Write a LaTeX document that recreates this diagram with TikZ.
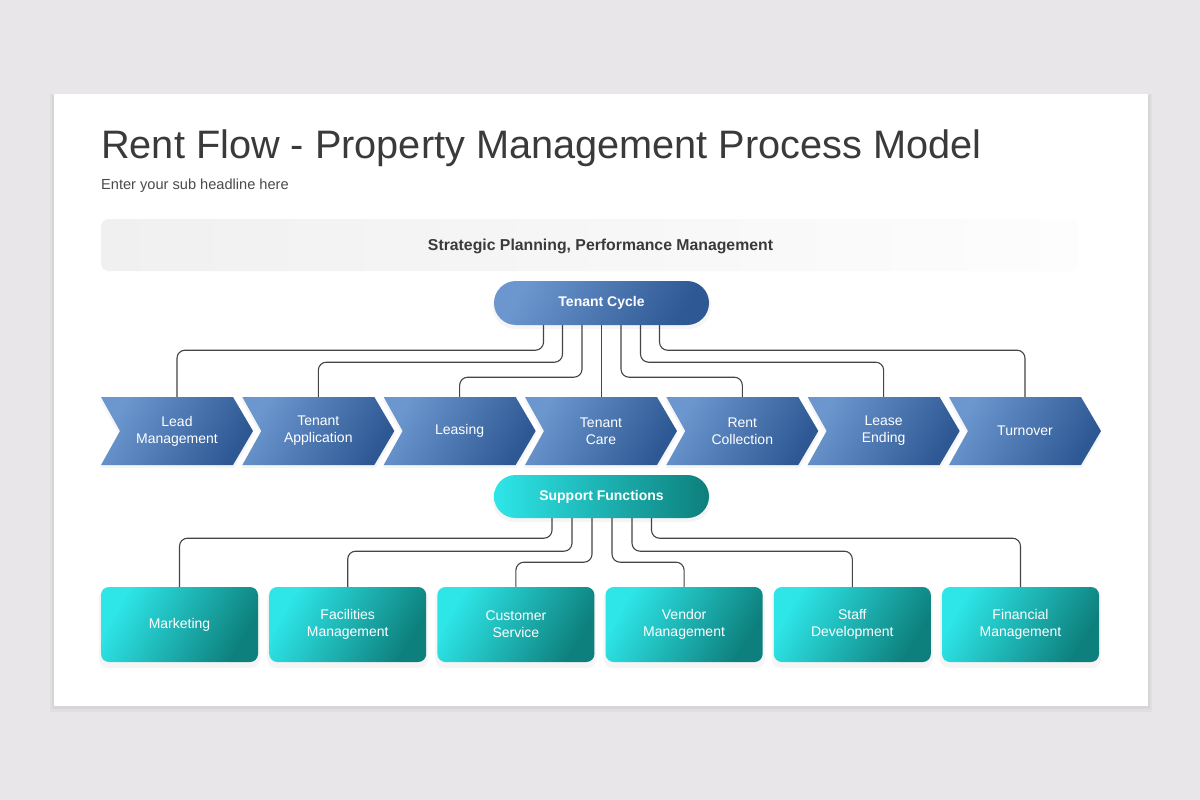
\documentclass[tikz,border=0pt]{standalone}
\usepackage{fontspec}
\setmainfont{Liberation Sans}
\usetikzlibrary{calc}
\definecolor{bgc}{HTML}{E8E6E8}
\definecolor{titlec}{HTML}{3A3A3A}
\definecolor{subc}{HTML}{4A4A4A}
\definecolor{blueL}{HTML}{6B96CE}
\definecolor{blueD}{HTML}{2D5893}
\definecolor{tealL}{HTML}{2EE6E8}
\definecolor{tealD}{HTML}{0D7F7C}
\definecolor{bandL}{HTML}{F0F0F0}
\definecolor{bandR}{HTML}{FDFDFD}
\definecolor{linec}{HTML}{454545}
\begin{document}
\begin{tikzpicture}[x=1pt,y=-1pt,
  bluegrad/.style={top color=blueL, bottom color=blueD, shading angle=60},
  tealgrad/.style={top color=tealL, bottom color=tealD, shading angle=60},
  pill/.style={minimum width=215pt, minimum height=44pt, rounded corners=22pt, inner sep=0pt,
    text=white, font=\fontsize{14}{17}\selectfont\bfseries},
  chevtext/.style={minimum width=120pt, minimum height=68pt, inner sep=0pt, align=center,
    text=white, font=\fontsize{14}{17}\selectfont},
  tealbox/.style={tealgrad, minimum width=157pt, minimum height=75pt, rounded corners=8pt,
    inner sep=0pt, align=center, text=white, font=\fontsize{14}{17}\selectfont},
  conn/.style={draw=linec, line width=1.1pt, rounded corners=8pt},
  shadowc/.style={fill=black, opacity=0.04}
]
\useasboundingbox (0,0) rectangle (1200,800);
\fill[bgc] (0,0) rectangle (1200,800);
% card
\fill[black,opacity=0.03] (50,94) rectangle (1152,712);
\fill[black,opacity=0.04] (52,95) rectangle (1150,709);
\fill[white] (54,94) rectangle (1148,706);
% title
\node[anchor=base west, inner sep=0pt, text=titlec, font=\fontsize{39.7}{44}\selectfont] (title) at (101,158) {Rent Flow - Property Management Process Model};
\node[anchor=base west, inner sep=0pt, text=subc, font=\fontsize{14.6}{17}\selectfont] (sub) at (101,189) {Enter your sub headline here};
% banner
\shade[left color=bandL, right color=bandR, rounded corners=8pt] (101,219) rectangle (1078,271);
\node[text=titlec, font=\fontsize{15.8}{18}\selectfont\bfseries] (banner) at (600.5,246) {Strategic Planning, Performance Management};
% tenant cycle pill
\fill[shadowc, rounded corners=22pt] (493,283) rectangle (711,329);
\node[pill, bluegrad] (tc) at (601.5,303) {\raisebox{-1pt}{Tenant Cycle}};
% chevrons
\foreach \i/\t in {0/{Lead\\Management},1/{Tenant\\Application},2/{Leasing},3/{Tenant\\Care},4/{Rent\\Collection},5/{Lease\\Ending},6/{Turnover}}{
  \pgfmathsetmacro{\xo}{101+141.33*\i}
  \fill[shadowc] (\xo-1,400) -- ++(134,0) -- ++(20,34) -- ++(-20,34) -- ++(-134,0) -- ++(19,-34) -- cycle;
  \shade[bluegrad] (\xo,397) -- ++(132,0) -- ++(20,34) -- ++(-20,34) -- ++(-132,0) -- ++(19,-34) -- cycle;
  \pgfmathtruncatemacro{\k}{\i+1}
  \node[chevtext] (c\k) at (\xo+76,431) {\t};
}
% tenant connectors
\draw[conn] ($(tc.south)+(-58,0)$) -- ++(0,25) -| (c1.north);
\draw[conn] ($(tc.south)+(-39,0)$) -- ++(0,37) -| (c2.north);
\draw[conn] ($(tc.south)+(-19.5,0)$) -- ++(0,52) -| (c3.north);
\draw[conn] (tc.south) -- (tc.south |- c4.north);
\draw[conn] ($(tc.south)+(19.5,0)$) -- ++(0,52) -| (c5.north);
\draw[conn] ($(tc.south)+(39,0)$) -- ++(0,37) -| (c6.north);
\draw[conn] ($(tc.south)+(58,0)$) -- ++(0,25) -| (c7.north);
% support pill
\fill[shadowc, rounded corners=21.5pt] (493,477) rectangle (711,522);
\node[pill, minimum height=43pt, rounded corners=21.5pt, left color=tealL, right color=tealD] (sf) at (601.5,496.5) {\raisebox{-1pt}{Support Functions}};
% support boxes
\foreach \i/\t in {0/{Marketing},1/{Facilities\\Management},2/{Customer\\Service},3/{Vendor\\Management},4/{Staff\\Development},5/{Financial\\Management}}{
  \pgfmathsetmacro{\xo}{101+168.2*\i}
  \fill[shadowc, rounded corners=9pt] (\xo-2,589) rectangle ++(161,79);
  \pgfmathtruncatemacro{\k}{\i+1}
  \node[tealbox] (s\k) at (\xo+78.5,624.5) {\t};
}
% support connectors
\draw[conn] ($(sf.south)+(-49.5,0)$) -- ++(0,20) -| (s1.north);
\draw[conn] ($(sf.south)+(-29.5,0)$) -- ++(0,33) -| (s2.north);
\draw[conn] ($(sf.south)+(-9.5,0)$) -- ++(0,44) -| (s3.north);
\draw[conn] ($(sf.south)+(10.5,0)$) -- ++(0,44) -| (s4.north);
\draw[conn] ($(sf.south)+(30.5,0)$) -- ++(0,33) -| (s5.north);
\draw[conn] ($(sf.south)+(50,0)$) -- ++(0,20) -| (s6.north);
\end{tikzpicture}
\end{document}
